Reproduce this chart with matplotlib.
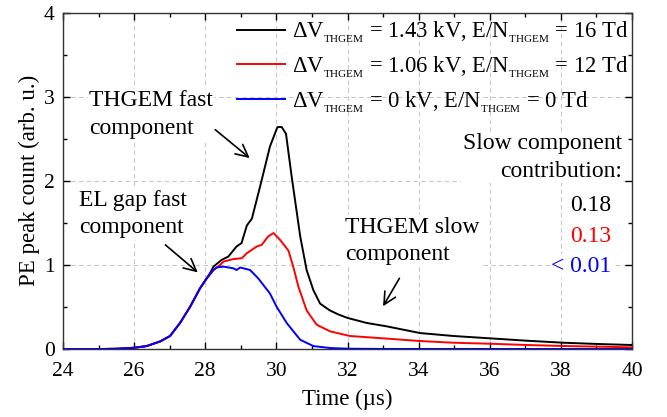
import matplotlib
matplotlib.use("Agg")
import matplotlib.pyplot as plt
from matplotlib.ticker import MultipleLocator

plt.rcParams['font.family'] = ['Liberation Serif', 'DejaVu Serif']
plt.rcParams['mathtext.fontset'] = 'custom'
plt.rcParams['mathtext.rm'] = 'Liberation Serif'
plt.rcParams['mathtext.it'] = 'Liberation Serif:italic'

# ---- data ----
rise_t = [24.0, 25.0, 25.5, 26.0, 26.35, 26.73, 27.01, 27.29, 27.57, 27.85, 28.04]
rise_v = [0.0, 0.0, 0.003, 0.015, 0.035, 0.09, 0.155, 0.31, 0.50, 0.72, 0.84]

black_t = rise_t + [28.13, 28.23, 28.46, 28.65, 28.88, 29.02, 29.17, 29.31, 29.54, 29.82, 30.03,
                    30.15, 30.27, 30.43, 30.67, 30.85, 31.04, 31.23, 31.5, 31.75, 32.0, 32.54,
                    33.1, 34.04, 34.98, 36.01, 37.04, 38.07, 39.1, 40.0]
black_v = rise_v + [0.90, 0.98, 1.06, 1.10, 1.22, 1.26, 1.47, 1.55, 1.93, 2.41, 2.64,
                    2.64, 2.56, 2.05, 1.34, 0.94, 0.70, 0.54, 0.46, 0.41, 0.37, 0.31,
                    0.27, 0.19, 0.155, 0.127, 0.099, 0.075, 0.059, 0.048]

red_t = rise_t + [28.23, 28.42, 28.51, 28.79, 29.03, 29.17, 29.45, 29.59, 29.77, 29.92, 30.10,
                  30.34, 30.48, 30.62, 30.85, 31.13, 31.51, 32.07, 33.01, 34.04, 34.98, 36.01,
                  37.04, 38.07, 39.1, 40.0]
red_v = rise_v + [0.94, 1.0, 1.04, 1.07, 1.08, 1.14, 1.22, 1.24, 1.34, 1.38, 1.30,
                  1.17, 0.97, 0.74, 0.46, 0.29, 0.21, 0.155, 0.127, 0.095, 0.075, 0.063,
                  0.048, 0.036, 0.028, 0.02]

blue_t = rise_t + [28.23, 28.32, 28.51, 28.79, 28.88, 28.98, 29.26, 29.49, 29.82, 30.01, 30.29,
                   30.67, 31.04, 31.51, 32.0, 33.0, 40.0]
blue_v = rise_v + [0.94, 0.97, 0.98, 0.96, 0.94, 0.97, 0.94, 0.84, 0.66, 0.50, 0.31,
                   0.11, 0.035, 0.012, 0.004, 0.001, 0.0]

sub = r'$_{{}_{\rm THGEM}}$'
labels = [r'$\Delta$V' + sub + ' = 1.43 kV, E/N' + sub + ' = 16 Td',
          r'$\Delta$V' + sub + ' = 1.06 kV, E/N' + sub + ' = 12 Td',
          r'$\Delta$V' + sub + ' = 0 kV, E/N' + sub + ' = 0 Td']
colors = ['#000000', '#ff0000', '#0000ff']
slow_values = ['0.18', '0.13', '< 0.01']

# ---- figure ----
fig = plt.figure(figsize=(6.67, 4.17), dpi=100)
ax = fig.add_axes([0.0945, 0.163, 0.853, 0.8065])

series = [(black_t, black_v), (red_t, red_v), (blue_t, blue_v)]
for (t, v), c, lab in zip(series, colors, labels):
    ax.plot(t, v, color=c, lw=1.4, label=lab, zorder=3)

ax.set_xlim(24, 40)
ax.set_ylim(0, 4)
ax.xaxis.set_major_locator(MultipleLocator(2))
ax.xaxis.set_minor_locator(MultipleLocator(1))
ax.yaxis.set_major_locator(MultipleLocator(1))
ax.yaxis.set_minor_locator(MultipleLocator(0.5))
ax.tick_params(which='both', direction='in', top=True, right=True, labelsize=15.5)
ax.tick_params(which='major', length=5, width=1)
ax.tick_params(which='minor', length=3, width=1)
ax.tick_params(axis='x', which='major', pad=9)
ax.tick_params(axis='y', which='major', pad=6)
ax.grid(True, which='major', ls=(0, (4, 3)), color='#c8c8c8', lw=0.8, zorder=0)
for s in ax.spines.values():
    s.set_linewidth(1.0)
    s.set_color('#333333')

ax.set_xlabel('Time (µs)', fontsize=16.5)
ax.set_ylabel('PE peak count (arb. u.)', fontsize=16.5)
ax.xaxis.set_label_coords(0.499, -0.118)
ax.yaxis.set_label_coords(-0.040, 0.5)

leg = ax.legend(loc='upper right', bbox_to_anchor=(1.0176, 1.02), frameon=False, fontsize=16.3,
                handlelength=2.15, handletextpad=0.3, labelspacing=0.4, borderaxespad=0.2)

box = dict(facecolor='white', edgecolor='none', pad=1)
arr = dict(arrowstyle='->', lw=1.2, color='black', mutation_scale=22)
fs = 17

ax.text(24.73, 2.79, 'THGEM fast\ncomponent', fontsize=fs, ha='left', va='center',
        linespacing=1.4, bbox=box, zorder=4)
ax.annotate('', xy=(29.31, 2.25), xytext=(28.22, 2.63), arrowprops=arr)

ax.text(24.45, 1.605, 'EL gap fast\ncomponent', fontsize=fs, ha='left', va='center',
        linespacing=1.4, bbox=box, zorder=4)
ax.annotate('', xy=(27.85, 0.89), xytext=(26.82, 1.26), arrowprops=arr)

ax.text(31.92, 1.284, 'THGEM slow\ncomponent', fontsize=fs, ha='left', va='center',
        linespacing=1.4, bbox=box, zorder=4)
ax.annotate('', xy=(32.96, 0.48), xytext=(33.5, 0.87), arrowprops=arr)

ax.text(39.72, 2.277, 'Slow component\ncontribution:', fontsize=fs, ha='right', va='center',
        multialignment='right', linespacing=1.4, bbox=box, zorder=4)
value_y = [1.712, 1.344, 0.987]
for val, c, yv in zip(slow_values, colors, value_y):
    ax.text(39.43, yv, val, color=c, fontsize=fs, ha='right', va='center',
            bbox=box, zorder=4)

fig.savefig('out.png', dpi=100)
